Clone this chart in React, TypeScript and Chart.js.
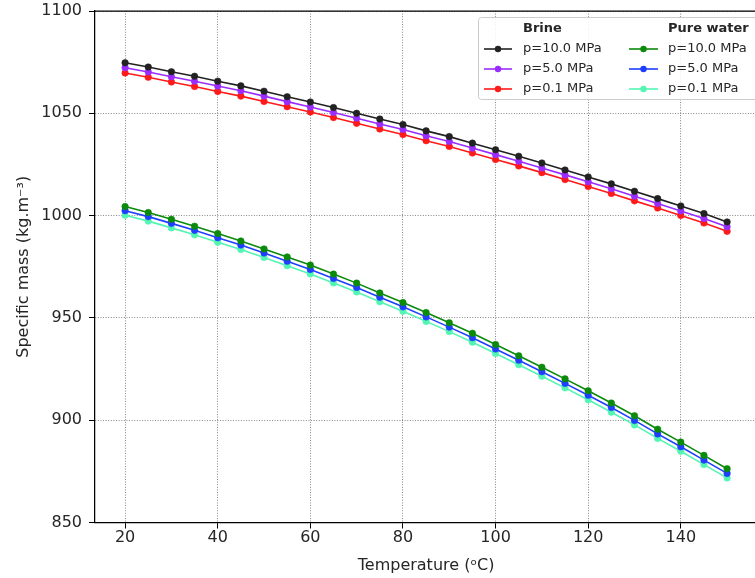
import React, { useEffect, useRef } from "react";
import { Chart, registerables } from "chart.js";

Chart.register(...registerables);

const temperatures = [20, 25, 30, 35, 40, 45, 50, 55, 60, 65, 70, 75, 80, 85, 90, 95, 100, 105, 110, 115, 120, 125, 130, 135, 140, 145, 150];

const brine10 = [1074.7, 1072.6, 1070.3, 1068.1, 1065.7, 1063.4, 1060.8, 1058.1, 1055.5, 1052.8, 1050.0, 1047.2, 1044.5, 1041.4, 1038.6, 1035.4, 1032.2, 1029.0, 1025.7, 1022.3, 1018.9, 1015.5, 1011.9, 1008.3, 1004.7, 1001.0, 996.9];
const brine5 = [1072.3, 1070.2, 1067.9, 1065.7, 1063.3, 1061.0, 1058.4, 1055.7, 1053.1, 1050.4, 1047.6, 1044.8, 1042.1, 1039.0, 1036.2, 1033.0, 1029.8, 1026.6, 1023.3, 1019.9, 1016.5, 1013.1, 1009.5, 1005.9, 1002.3, 998.6, 994.5];
const brine01 = [1069.7, 1067.6, 1065.3, 1063.1, 1060.7, 1058.4, 1055.8, 1053.2, 1050.6, 1047.9, 1045.1, 1042.3, 1039.6, 1036.6, 1033.8, 1030.6, 1027.4, 1024.3, 1021.0, 1017.6, 1014.2, 1010.8, 1007.2, 1003.7, 1000.1, 996.4, 992.3];

const water10 = [1004.4, 1001.5, 998.2, 994.8, 991.2, 987.6, 983.7, 979.8, 975.8, 971.4, 967.0, 962.2, 957.5, 952.6, 947.6, 942.5, 937.0, 931.5, 925.9, 920.2, 914.4, 908.4, 902.2, 895.6, 889.3, 882.8, 876.3];
const water5 = [1002.4, 999.5, 996.2, 992.8, 989.2, 985.6, 981.7, 977.7, 973.7, 969.3, 964.9, 960.1, 955.4, 950.5, 945.5, 940.3, 934.8, 929.3, 923.7, 918.0, 912.2, 906.2, 899.9, 893.3, 887.0, 880.5, 874.0];
const water01 = [1000.2, 997.3, 994.0, 990.6, 987.0, 983.4, 979.5, 975.5, 971.5, 967.1, 962.7, 957.9, 953.2, 948.3, 943.3, 938.1, 932.6, 927.1, 921.5, 915.8, 910.0, 903.9, 897.7, 891.1, 884.8, 878.3, 871.8];

const xTicks = [20, 40, 60, 80, 100, 120, 140];
const yTicks = [850, 900, 950, 1000, 1050, 1100];
const groupTitles = ["Brine", "Pure water"];
const pressureLabels = ["p=10.0 MPa", "p=5.0 MPa", "p=0.1 MPa"];

const FONT = "'DejaVu Sans', sans-serif";
const TEXT = "#262626";

const legendPlugin = {
  id: "twoColumnLegend",
  afterDraw(chart: any) {
    const ctx = chart.ctx;
    const ca = chart.chartArea;
    ctx.save();
    // top spine
    ctx.strokeStyle = "#000";
    ctx.lineWidth = 1.25;
    ctx.beginPath();
    ctx.moveTo(ca.left, ca.top);
    ctx.lineTo(ca.right, ca.top);
    ctx.stroke();

    // legend box
    const bx = 478.5, by = 17.5, bw = 300, bh = 82;
    const r = 3;
    ctx.beginPath();
    ctx.moveTo(bx + r, by);
    ctx.lineTo(bx + bw - r, by);
    ctx.quadraticCurveTo(bx + bw, by, bx + bw, by + r);
    ctx.lineTo(bx + bw, by + bh - r);
    ctx.quadraticCurveTo(bx + bw, by + bh, bx + bw - r, by + bh);
    ctx.lineTo(bx + r, by + bh);
    ctx.quadraticCurveTo(bx, by + bh, bx, by + bh - r);
    ctx.lineTo(bx, by + r);
    ctx.quadraticCurveTo(bx, by, bx + r, by);
    ctx.closePath();
    ctx.fillStyle = "rgba(255,255,255,0.85)";
    ctx.fill();
    ctx.strokeStyle = "#cccccc";
    ctx.lineWidth = 1;
    ctx.stroke();

    const cols = [
      { lineX0: 484, lineX1: 512, textX: 523 },
      { lineX0: 629, lineX1: 658, textX: 668 },
    ];
    const titleY = 28.5;
    const rowYs = [49, 69, 89];
    ctx.textBaseline = "middle";
    ctx.textAlign = "left";
    cols.forEach((c, gi) => {
      ctx.fillStyle = TEXT;
      ctx.font = `bold 13px ${FONT}`;
      ctx.fillText(groupTitles[gi], c.textX, titleY);
      for (let k = 0; k < 3; k++) {
        const ds = chart.data.datasets[gi * 3 + k];
        const y = rowYs[k];
        ctx.strokeStyle = ds.borderColor;
        ctx.lineWidth = 1.6;
        ctx.beginPath();
        ctx.moveTo(c.lineX0, y);
        ctx.lineTo(c.lineX1, y);
        ctx.stroke();
        ctx.fillStyle = ds.borderColor;
        ctx.beginPath();
        ctx.arc((c.lineX0 + c.lineX1) / 2, y, 3.2, 0, Math.PI * 2);
        ctx.fill();
        ctx.fillStyle = TEXT;
        ctx.font = `13px ${FONT}`;
        ctx.fillText(ds.label, c.textX, y);
      }
    });
    ctx.restore();
  },
};

function makeSeries(label: string, values: number[], color: string) {
  return {
    label,
    data: temperatures.map((t, i) => ({ x: t, y: values[i] })),
    borderColor: color,
    backgroundColor: color,
    borderWidth: 1.6,
    pointRadius: 3.3,
    pointBorderWidth: 0.5,
    pointHoverRadius: 3.3,
    tension: 0,
  };
}

export default function App() {
  const ref = useRef<HTMLCanvasElement | null>(null);

  useEffect(() => {
    if (!ref.current) return;
    const chart = new Chart(ref.current, {
      type: "line",
      data: {
        datasets: [
          makeSeries(pressureLabels[0], brine10, "#222222"),
          makeSeries(pressureLabels[1], brine5, "#9b2cff"),
          makeSeries(pressureLabels[2], brine01, "#ff1a1a"),
          makeSeries(pressureLabels[0], water10, "#0b8a0b"),
          makeSeries(pressureLabels[1], water5, "#1f3fff"),
          makeSeries(pressureLabels[2], water01, "#52f5b2"),
        ],
      },
      options: {
        animation: false,
        responsive: false,
        devicePixelRatio: 1,
        layout: { padding: { top: 11, left: 0, right: 0, bottom: 0 } },
        plugins: {
          legend: { display: false },
          tooltip: { enabled: false },
        },
        scales: {
          x: {
            type: "linear",
            min: 13.5,
            max: 156.5,
            afterBuildTicks: (s: any) => {
              s.ticks = xTicks.map((v) => ({ value: v }));
            },
            afterFit: (s: any) => {
              s.height = 55.5;
              s.paddingLeft = 0;
              s.paddingRight = 0;
            },
            ticks: {
              font: { family: FONT, size: 16 },
              color: TEXT,
              padding: 0,
              maxRotation: 0,
              autoSkip: false,
              callback: (v: any) => String(v),
            },
            grid: {
              color: "rgba(0,0,0,0.6)",
              lineWidth: 0.8,
              drawTicks: true,
              tickLength: 6,
              tickColor: "#000",
              tickWidth: 1,
              tickBorderDash: [],
            },
            border: { display: true, color: "#000", width: 1.25, dash: [1, 1.6] },
            title: {
              display: true,
              text: "Temperature (ᵒC)",
              font: { family: FONT, size: 16 },
              color: TEXT,
              padding: { top: 0, bottom: 3 },
            },
          },
          y: {
            type: "linear",
            min: 850,
            max: 1100,
            afterBuildTicks: (s: any) => {
              s.ticks = yTicks.map((v) => ({ value: v }));
            },
            afterFit: (s: any) => {
              s.width = 95;
              s.paddingTop = 0;
              s.paddingBottom = 0;
            },
            ticks: {
              font: { family: FONT, size: 16 },
              color: TEXT,
              padding: 7,
              autoSkip: false,
              callback: (v: any) => String(v),
            },
            grid: {
              color: "rgba(0,0,0,0.6)",
              lineWidth: 0.8,
              drawTicks: true,
              tickLength: 6,
              tickColor: "#000",
              tickWidth: 1,
              tickBorderDash: [],
            },
            border: { display: true, color: "#000", width: 1.25, dash: [1, 1.6] },
            title: {
              display: true,
              text: "Specific mass (kg.m⁻³)",
              font: { family: FONT, size: 16 },
              color: TEXT,
              padding: { top: 14, bottom: 0 },
            },
          },
        },
      } as any,
      plugins: [legendPlugin],
    });
    return () => chart.destroy();
  }, []);

  return (
    <div style={{ position: "absolute", left: 0, top: 0, width: 755, height: 578, overflow: "hidden", background: "#fff" }}>
      <canvas ref={ref} width={761} height={578} style={{ display: "block", width: 761, height: 578 }} />
    </div>
  );
}
